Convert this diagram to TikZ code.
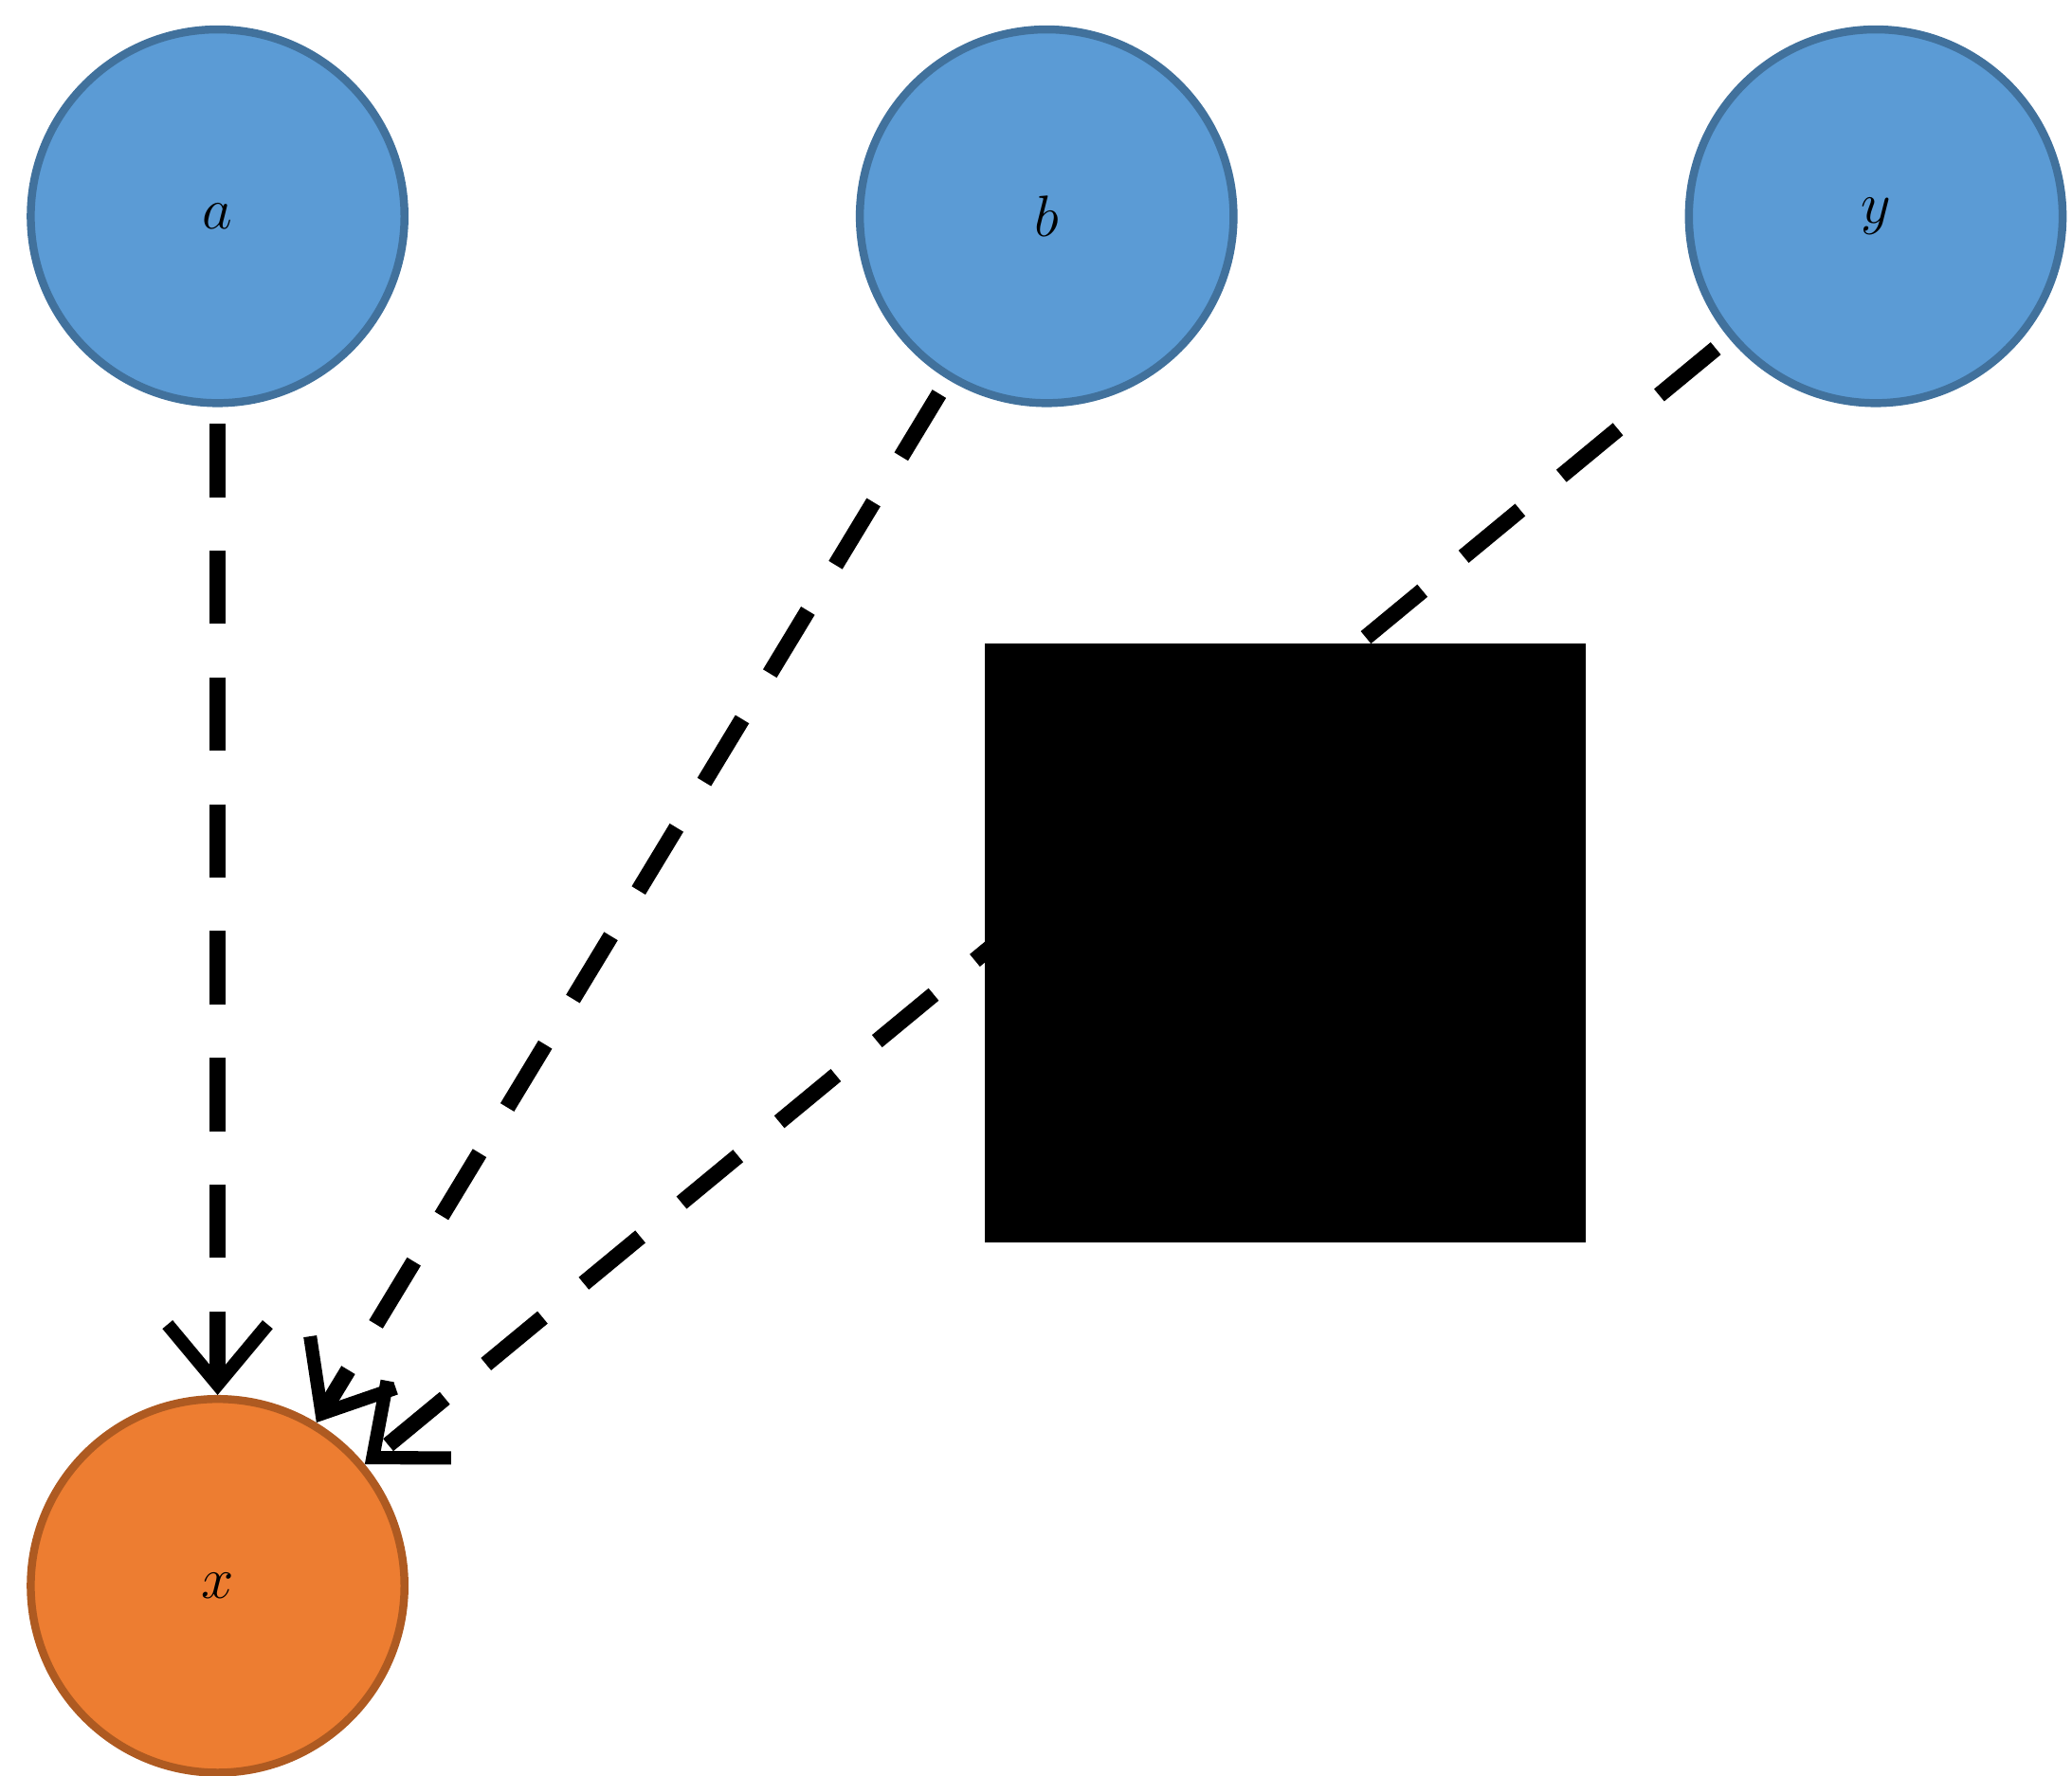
\documentclass[tikz,border=0pt]{standalone}
\usetikzlibrary{arrows.meta}
\definecolor{bfill}{HTML}{5B9BD5}\definecolor{bdraw}{HTML}{41719C}
\definecolor{ofill}{HTML}{ED7D31}\definecolor{odraw}{HTML}{AE5A21}
\begin{document}
\begin{tikzpicture}[x=0.02cm,y=-0.02cm,
 var/.style={circle,minimum size=5.6cm,inner sep=0pt,line width=0.12cm,font=\fontsize{150}{150}\selectfont},
 bv/.style={var,fill=bfill,draw=bdraw},
 ov/.style={var,fill=ofill,draw=odraw},
 dl/.style={line width=0.24cm,dash pattern=on 1.1cm off 0.8cm,shorten <=0.25cm,
   -{Straight Barb[length=0.9cm,width=1.5cm,line width=0.2cm]}}]
\useasboundingbox (0,0) rectangle (1552,1330);
\node[bv] (a) at (163,162) {$a$};
\node[bv] (b) at (784,162) {$b$};
\node[bv] (y) at (1405,162) {$y$};
\node[ov] (x) at (163,1188) {$x$};
\draw[dl] (a) -- (x);
\draw[dl] (b) -- (x);
\draw[dl] (y) -- (x);
\fill (738,482) rectangle (1188,931);
\end{tikzpicture}
\end{document}
